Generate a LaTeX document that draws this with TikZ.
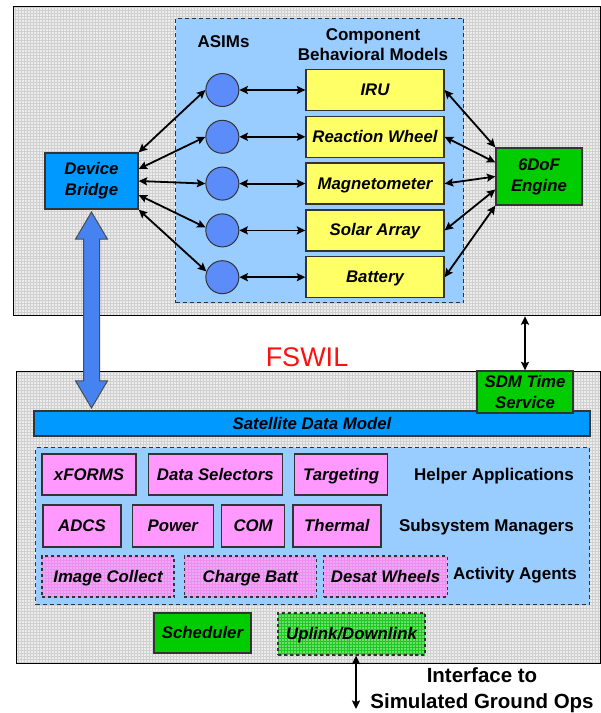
\documentclass[tikz,border=0pt]{standalone}
\usepackage{fontspec}
\setmainfont{Liberation Sans}
\usetikzlibrary{arrows.meta,positioning,shapes.arrows,patterns,calc}
\definecolor{panelgray}{RGB}{236,236,236}
\definecolor{gridgray}{RGB}{208,208,208}
\definecolor{groupblue}{RGB}{153,204,255}
\definecolor{modelyellow}{RGB}{255,255,102}
\definecolor{asimblue}{RGB}{92,140,250}
\definecolor{bridgeblue}{RGB}{0,153,255}
\definecolor{arrowblue}{RGB}{70,130,240}
\definecolor{enggreen}{RGB}{0,204,0}
\definecolor{apppink}{RGB}{255,153,255}
\definecolor{agentpink}{RGB}{232,172,246}
\definecolor{agentgrid}{RGB}{240,140,240}
\definecolor{uplinkgreen}{RGB}{110,222,110}
\definecolor{uplinkgrid}{RGB}{30,200,30}
\definecolor{fswred}{RGB}{255,16,16}
\newcommand{\boxfont}{\fontsize{16.8bp}{21bp}\selectfont\bfseries\itshape}
\newcommand{\grpfont}{\fontsize{17bp}{20bp}\selectfont\bfseries}
\newcommand{\gndfont}{\fontsize{20.5bp}{26bp}\selectfont\bfseries}

\begin{document}
\begin{tikzpicture}[
  x=1bp, y=-1bp,
  panel/.style={draw=black, line width=1.2bp, preaction={fill=panelgray},
                pattern=grid, pattern color=gridgray, inner sep=0pt},
  group/.style={draw=black!80, dash pattern=on 4bp off 3bp, fill=groupblue,
                line width=1bp, inner sep=0pt},
  box2/.style={draw=black!80, line width=1.3bp, font=\boxfont, align=center,
               inner sep=0pt, minimum height=41bp},
  box/.style={box2, text height=12bp, text depth=1bp},
  model/.style={box, fill=modelyellow, minimum width=138bp},
  asim/.style={circle, draw=black!80, line width=1bp, fill=asimblue,
               minimum size=33bp, inner sep=0pt},
  app/.style={box, fill=apppink},
  agent/.style={box, dashed, preaction={fill=agentpink}, pattern=grid,
                pattern color=agentgrid},
  grp/.style={font=\grpfont, anchor=east, inner sep=0pt},
  arr/.style={{Stealth[length=8.5bp,width=8bp,inset=1.5bp]}-{Stealth[length=8.5bp,width=8bp,inset=1.5bp]},
              line width=1.8bp},
  bigarrow/.style={double arrow, rotate=90, draw=black!70, fill=arrowblue,
                   line width=1bp, inner xsep=0pt, inner ysep=7.5bp,
                   double arrow head extend=8bp, double arrow tip angle=61,
                   minimum width=0pt}
]
\useasboundingbox (0,0) rectangle (601,713);

% simulation side
\node[panel, anchor=north west, minimum width=587bp, minimum height=309bp] (simbox) at (13,6) {};
\node[group, anchor=north west, minimum width=288bp, minimum height=284bp] (simgrp) at (175,18) {};
\node[font=\grpfont] (asimlbl) at (223.5,42) {ASIMs};
\node[font=\grpfont, align=center] (cbmlbl) at (373,45) {Component\\Behavioral Models};

\node[model] (iru) at (375,90) {IRU};
\node[model, below=4.5bp of iru] (rw)  {Reaction Wheel};
\node[model, below=4.5bp of rw]  (mag) {Magnetometer};
\node[model, below=4.5bp of mag] (sa)  {Solar Array};
\node[model, below=4.5bp of sa]  (bat) {Battery};

\node[asim, left=66bp of iru] (c1) {};
\node[asim, left=66bp of rw]  (c2) {};
\node[asim, left=66bp of mag] (c3) {};
\node[asim, left=66bp of sa]  (c4) {};
\node[asim, left=66bp of bat] (c5) {};

\node[box2, fill=bridgeblue, minimum width=93bp, minimum height=56bp] (db) at (91.5,181) {Device\\Bridge};
\node[box2, fill=enggreen, minimum width=86bp, minimum height=57bp] (dof) at (539,176.5) {6DoF\\Engine};

\draw[arr] (c1) -- (iru);
\draw[arr] (c2) -- (rw);
\draw[arr] (c3) -- (mag);
\draw[arr] (c4) -- (sa);
\draw[arr] (c5) -- (bat);

\draw[arr] (db.north east)         -- (c1.west);
\draw[arr] ([yshift=12bp]db.east)  -- (c2.west);
\draw[arr] (db.east)               -- (c3.west);
\draw[arr] ([yshift=-14bp]db.east) -- (c4.170);
\draw[arr] (db.south east)         -- (c5.160);

\draw[arr] (iru.east) -- (dof.north west);
\draw[arr] (rw.east)  -- ([yshift=14bp]dof.west);
\draw[arr] (mag.east) -- (dof.west);
\draw[arr] (sa.east)  -- ([yshift=-13bp]dof.west);
\draw[arr] (bat.east) -- (dof.south west);

% flight software side
\node[font=\fontsize{27bp}{30bp}\selectfont, text=fswred] (fswil) at (307,357) {FSWIL};
\node[panel, anchor=north west, minimum width=584bp, minimum height=292bp] (fswbox) at (16,371) {};
\node[box, fill=bridgeblue, minimum width=556bp, minimum height=25bp] (sdm) at (312,423.5) {Satellite Data Model};
\node[box2, fill=enggreen, minimum width=96bp, minimum height=42bp] (sdmts) at (525,392) {SDM Time\\Service};
\node[group, anchor=north west, minimum width=554bp, minimum height=157bp] (fswgrp) at (35,447) {};

\node[app, minimum width=94bp] (xforms) at (89,474.5) {xFORMS};
\node[app, minimum width=134bp, right=11bp of xforms] (dsel) {Data Selectors};
\node[app, minimum width=93bp, right=11bp of dsel] (targ) {Targeting};
\node[grp] (helperlbl) at (574,476) {Helper Applications};

\node[app, minimum width=78bp, minimum height=42bp] (adcs) at (82,526) {ADCS};
\node[app, minimum width=81bp, minimum height=42bp, right=10bp of adcs] (power) {Power};
\node[app, minimum width=63bp, minimum height=42bp, right=7bp of power] (com) {COM};
\node[app, minimum width=88bp, minimum height=42bp, right=7bp of com] (thermal) {Thermal};
\node[grp] (subsyslbl) at (574,527) {Subsystem Managers};

\node[agent, minimum width=132bp] (imgcol) at (108,576.5) {Image Collect};
\node[agent, minimum width=132bp, right=9bp of imgcol] (chgbatt) {Charge Batt};
\node[agent, minimum width=124bp, right=6bp of chgbatt] (desat) {Desat Wheels};
\node[grp] (agentlbl) at (577,575) {Activity Agents};

\node[box, fill=enggreen, minimum width=97bp, minimum height=40bp] (sched) at (202.5,633) {Scheduler};
\node[box, dashed, preaction={fill=uplinkgreen}, pattern=grid, pattern color=uplinkgrid,
      minimum width=147bp, minimum height=42bp] (uplink) at (351.5,634) {Uplink/Downlink};

% links between the two sides
\node[bigarrow, minimum height=196bp] (dbsdm) at ($(db.south)!0.5!(db.south |- sdm.north)$) {};
\draw[arr] (simbox.south -| sdmts.north) -- (sdmts.north);

\coordinate (gnd) at (356,709);
\draw[arr] (uplink.south -| gnd) -- (gnd);
\node[font=\gndfont, align=center] (gndlbl) at (482,690) {Interface to\\Simulated Ground Ops};
\end{tikzpicture}
\end{document}
